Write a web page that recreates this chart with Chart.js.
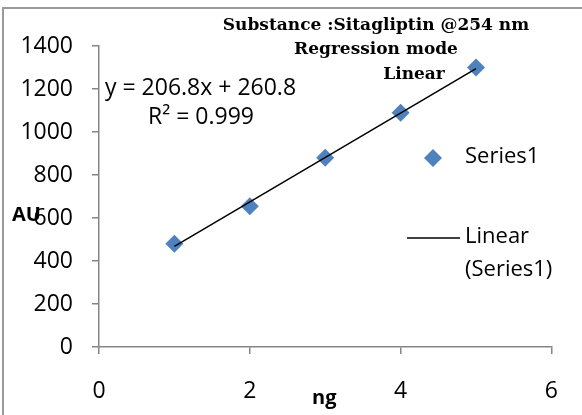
<!DOCTYPE html>
<html>
<head>
<meta charset="utf-8">
<script src="https://cdn.jsdelivr.net/npm/chart.js@4"></script>
<style>
html,body{margin:0;padding:0;background:#fff;}
#wrap{position:relative;width:582px;height:415px;}
</style>
</head>
<body>
<div id="wrap"><canvas id="c" width="582" height="415"></canvas></div>
<script>
const xValues = [1, 2, 3, 4, 5];
const yValues = [480, 655, 880, 1090, 1300];
const trendSlope = 206.8;
const trendIntercept = 260.8;
const xTicks = [0, 2, 4, 6];
const yTicks = [0, 200, 400, 600, 800, 1000, 1200, 1400];
const titleLines = ["Substance :Sitagliptin @254 nm", "Regression mode", "Linear"];
const equationText = "y = 206.8x + 260.8";
const r2Text = "R² = 0.999";
const seriesName = "Series1";
const trendName = ["Linear", "(Series1)"];
const xTitle = "ng";
const yTitle = "AU";

const blue = '#4F81BD';
const axisGray = '#868686';
const sans = '"Open Sans", sans-serif';
const serif = '"DejaVu Serif", serif';

const points = xValues.map((x, i) => ({x: x, y: yValues[i]}));
const trendX = [xValues[0], xValues[xValues.length - 1]];
const trendPoints = trendX.map(x => ({x: x, y: trendSlope * x + trendIntercept}));

const overlay = {
  id: 'overlay',
  afterDraw(chart) {
    const ctx = chart.ctx;
    ctx.save();
    ctx.strokeStyle = '#9a9a9a';
    ctx.lineWidth = 2;
    ctx.beginPath();
    ctx.moveTo(3, 415);
    ctx.lineTo(3, 8);
    ctx.lineTo(582, 8);
    ctx.stroke();

    ctx.fillStyle = '#000';
    ctx.font = 'bold 17px ' + serif;
    ctx.textAlign = 'center';
    ctx.textBaseline = 'middle';
    ctx.fillText(titleLines[0], 376, 26);
    ctx.fillText(titleLines[1], 376, 50);
    ctx.fillText(titleLines[2], 414, 75);

    ctx.font = '23px ' + sans;
    ctx.textAlign = 'left';
    ctx.fillText(equationText, 105, 88);
    ctx.fillText(r2Text, 148, 117);

    ctx.font = '22px ' + sans;
    ctx.fillStyle = blue;
    ctx.beginPath();
    ctx.moveTo(433, 149); ctx.lineTo(442, 158); ctx.lineTo(433, 167); ctx.lineTo(424, 158);
    ctx.closePath(); ctx.fill();
    ctx.fillStyle = '#000';
    ctx.fillText(seriesName, 465, 157);
    ctx.strokeStyle = '#000';
    ctx.lineWidth = 1.5;
    ctx.beginPath(); ctx.moveTo(407, 238); ctx.lineTo(460, 238); ctx.stroke();
    ctx.fillText(trendName[0], 465, 237);
    ctx.fillText(trendName[1], 465, 270);

    ctx.font = 'bold 20px ' + sans;
    ctx.fillText(yTitle, 12, 215);
    ctx.fillText(xTitle, 312, 398);
    ctx.restore();
  }
};

new Chart(document.getElementById('c'), {
  type: 'scatter',
  data: {
    datasets: [
      {
        label: seriesName,
        data: points,
        pointStyle: 'rectRot',
        pointRadius: 9,
        pointHoverRadius: 9,
        backgroundColor: blue,
        borderColor: blue,
        borderWidth: 0,
        order: 2
      },
      {
        type: 'line',
        label: trendName.join(' '),
        data: trendPoints,
        borderColor: '#000',
        borderWidth: 1.5,
        pointRadius: 0,
        fill: false,
        order: 1
      }
    ]
  },
  options: {
    responsive: false,
    animation: false,
    events: [],
    layout: {padding: {left: 0, top: 46, right: 29, bottom: 0}},
    plugins: {legend: {display: false}, tooltip: {enabled: false}, title: {display: false}},
    scales: {
      x: {
        type: 'linear', min: 0, max: 6,
        afterBuildTicks: s => { s.ticks = xTicks.map(v => ({value: v})); },
        afterFit: s => { s.height = 68; },
        grid: {drawOnChartArea: false, drawTicks: true, tickLength: 7, color: axisGray, lineWidth: 1.5},
        border: {color: axisGray, width: 1.5},
        ticks: {font: {family: sans, size: 23}, color: '#000', padding: 24, maxRotation: 0, callback: v => String(v)}
      },
      y: {
        type: 'linear', min: 0, max: 1400,
        afterBuildTicks: s => { s.ticks = yTicks.map(v => ({value: v})); },
        afterFit: s => { s.width = 99; },
        grid: {drawOnChartArea: false, drawTicks: true, tickLength: 7, color: axisGray, lineWidth: 1.5},
        border: {color: axisGray, width: 1.5},
        ticks: {font: {family: sans, size: 23}, color: '#000', padding: 19, callback: v => String(v)}
      }
    }
  },
  plugins: [overlay]
});
</script>
</body>
</html>
